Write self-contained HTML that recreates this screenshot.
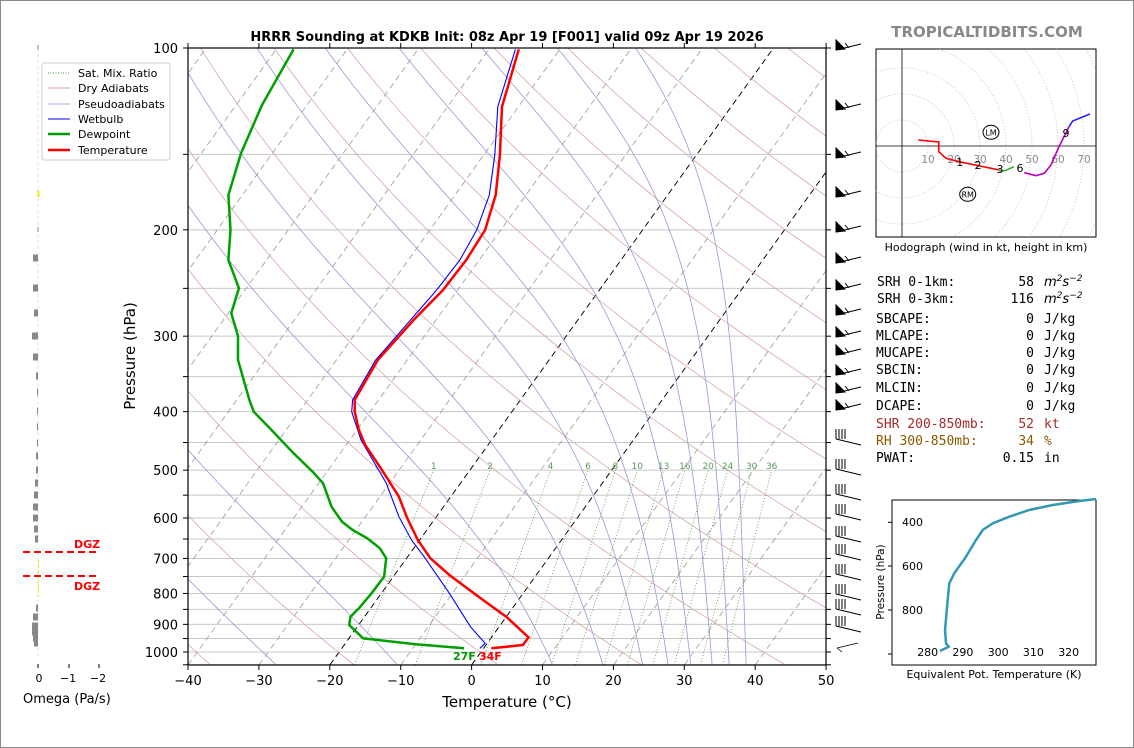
<!DOCTYPE html>
<html><head><meta charset="utf-8">
<style>
html,body{margin:0;padding:0;background:#fff;}
svg{display:block;font-family:"DejaVu Sans","Liberation Sans",sans-serif;}
</style></head>
<body>
<svg id="s" width="1134" height="748" viewBox="0 0 1134 748" xmlns="http://www.w3.org/2000/svg">
<rect x="0.5" y="0.5" width="1133" height="747" fill="#fff" stroke="#888" stroke-width="1"/>
<defs>
<clipPath id="cp"><rect x="188" y="48" width="638" height="617"/></clipPath>
<clipPath id="hc"><rect x="876" y="49" width="220" height="188"/></clipPath>
</defs>
<g id="bg" clip-path="url(#cp)"></g>
<g id="prof" clip-path="url(#cp)"></g>
<rect x="188" y="48" width="638" height="617" fill="none" stroke="#000" stroke-width="1.2"/>
<g id="ax" font-size="13"></g>
<text x="507" y="41" font-size="13" font-weight="bold" text-anchor="middle">HRRR Sounding at KDKB Init: 08z Apr 19 [F001] valid 09z Apr 19 2026</text>
<text x="987" y="37" font-size="15" font-weight="bold" fill="#888" text-anchor="middle">TROPICALTIDBITS.COM</text>
<text x="507" y="707" font-size="15" text-anchor="middle">Temperature (°C)</text>
<text transform="translate(135,356) rotate(-90)" font-size="15" text-anchor="middle">Pressure (hPa)</text>
<text x="453" y="660" font-size="11" font-weight="bold" fill="#009900">27F</text>
<text x="479" y="660" font-size="11" font-weight="bold" fill="#ff0000">34F</text>

<!-- legend -->
<g font-size="11">
<rect x="42" y="63" width="128" height="97" fill="#fff" stroke="#ccc" rx="2"/>
<line x1="48" y1="73" x2="70" y2="73" stroke="#4a9a4a" stroke-dasharray="1,1.5"/><text x="78" y="77">Sat. Mix. Ratio</text>
<line x1="48" y1="88" x2="70" y2="88" stroke="#d9a0a0"/><text x="78" y="92">Dry Adiabats</text>
<line x1="48" y1="104" x2="70" y2="104" stroke="#a8a8e0"/><text x="78" y="108">Pseudoadiabats</text>
<line x1="48" y1="119" x2="70" y2="119" stroke="#0000ff"/><text x="78" y="123">Wetbulb</text>
<line x1="48" y1="134" x2="70" y2="134" stroke="#009900" stroke-width="2.5"/><text x="78" y="138">Dewpoint</text>
<line x1="48" y1="150" x2="70" y2="150" stroke="#ff0000" stroke-width="2.5"/><text x="78" y="154">Temperature</text>
</g>

<!-- omega panel -->
<g id="om"></g>
<line x1="23" y1="552" x2="99" y2="552" stroke="#f00" stroke-width="2" stroke-dasharray="7,4"/>
<line x1="23" y1="576" x2="99" y2="576" stroke="#f00" stroke-width="2" stroke-dasharray="7,4"/>
<text x="74" y="548" font-size="11" font-weight="bold" fill="#f00">DGZ</text>
<text x="74" y="590" font-size="11" font-weight="bold" fill="#f00">DGZ</text>
<g font-size="11" text-anchor="middle">
<line x1="38" y1="664" x2="38" y2="668" stroke="#000"/><line x1="69" y1="664" x2="69" y2="668" stroke="#000"/><line x1="99" y1="664" x2="99" y2="668" stroke="#000"/>
<text x="39" y="682">0</text><text x="68" y="682">−1</text><text x="98" y="682">−2</text>
</g>
<text x="23" y="703" font-size="13">Omega (Pa/s)</text>

<!-- barbs -->
<g id="barbs" stroke="#000" fill="#000" stroke-width="1"></g>

<!-- hodograph -->
<rect x="876" y="49" width="220" height="188" fill="#fff" stroke="#000"/>
<g id="hodo" clip-path="url(#hc)"></g>
<text x="986" y="251" font-size="11" text-anchor="middle">Hodograph (wind in kt, height in km)</text>

<!-- stats -->
<g font-family="'DejaVu Sans Mono','Liberation Mono',monospace" font-size="13">
<text x="877" y="286">SRH 0-1km:</text><text x="1034" y="286" text-anchor="end">58</text><text x="1044" y="286" font-style="italic" font-family="'DejaVu Sans',sans-serif">m<tspan dy="-5" font-size="9">2</tspan><tspan dy="5">s</tspan><tspan dy="-5" font-size="9">−2</tspan></text>
<text x="877" y="303">SRH 0-3km:</text><text x="1034" y="303" text-anchor="end">116</text><text x="1044" y="303" font-style="italic" font-family="'DejaVu Sans',sans-serif">m<tspan dy="-5" font-size="9">2</tspan><tspan dy="5">s</tspan><tspan dy="-5" font-size="9">−2</tspan></text>
<text x="876" y="323">SBCAPE:</text><text x="1034" y="323" text-anchor="end">0</text><text x="1044" y="323">J/kg</text>
<text x="876" y="340">MLCAPE:</text><text x="1034" y="340" text-anchor="end">0</text><text x="1044" y="340">J/kg</text>
<text x="876" y="357">MUCAPE:</text><text x="1034" y="357" text-anchor="end">0</text><text x="1044" y="357">J/kg</text>
<text x="876" y="374">SBCIN:</text><text x="1034" y="374" text-anchor="end">0</text><text x="1044" y="374">J/kg</text>
<text x="876" y="392">MLCIN:</text><text x="1034" y="392" text-anchor="end">0</text><text x="1044" y="392">J/kg</text>
<text x="876" y="410">DCAPE:</text><text x="1034" y="410" text-anchor="end">0</text><text x="1044" y="410">J/kg</text>
<text x="876" y="428" fill="#a52a2a">SHR 200-850mb:</text><text x="1034" y="428" text-anchor="end" fill="#a52a2a">52</text><text x="1044" y="428" fill="#a52a2a">kt</text>
<text x="876" y="445" fill="#8b5a00">RH 300-850mb:</text><text x="1034" y="445" text-anchor="end" fill="#8b5a00">34</text><text x="1044" y="445" fill="#8b5a00">%</text>
<text x="876" y="462">PWAT:</text><text x="1034" y="462" text-anchor="end">0.15</text><text x="1044" y="462">in</text>
</g>

<!-- theta-e inset -->
<rect x="892" y="500" width="204" height="165" fill="#fff" stroke="#000"/>
<g font-size="11">
<line x1="888" y1="522.3" x2="892" y2="522.3" stroke="#000"/><text x="923" y="526" text-anchor="end">400</text>
<line x1="888" y1="566" x2="892" y2="566" stroke="#000"/><text x="923" y="570" text-anchor="end">600</text>
<line x1="888" y1="610" x2="892" y2="610" stroke="#000"/><text x="923" y="614" text-anchor="end">800</text>
<line x1="888" y1="654" x2="892" y2="654" stroke="#000"/>
<text x="927.7" y="656" text-anchor="middle">280</text><text x="962.9" y="656" text-anchor="middle">290</text><text x="998.2" y="656" text-anchor="middle">300</text><text x="1033.4" y="656" text-anchor="middle">310</text><text x="1068.7" y="656" text-anchor="middle">320</text>
<text x="994" y="678" text-anchor="middle">Equivalent Pot. Temperature (K)</text>
<text transform="translate(884,582) rotate(-90)" text-anchor="middle" font-size="10.5">Pressure (hPa)</text>
</g>
<polyline fill="none" stroke="#3399b3" stroke-width="2.5" points="940,651 948.7,646.7 946,643.3 945,630 947.7,600 949.3,583.3 954.3,573.3 966,556.7 976,540 982.7,530 992.7,523.3 1009.3,516.7 1029.3,510 1052.7,505 1079.3,501 1096,499"/>
</svg>
<script>
(function(){
var NS="http://www.w3.org/2000/svg";
function el(p,t,a){var e=document.createElementNS(NS,t);for(var k in a)e.setAttribute(k,a[k]);p.appendChild(e);return e;}
function Y(p){return 48+604*Math.log10(p/100);}
function X(T,p){return 188+(T+40)*7.09+0.719*(665-Y(p));}
var bg=document.getElementById('bg');
for(var p=100;p<=1050;p+=50){el(bg,'line',{x1:188,x2:826,y1:Y(p),y2:Y(p),stroke:'#c8c8c8','stroke-width':1});}
for(var T=-130;T<=50;T+=10){el(bg,'line',{x1:X(T,1050),y1:Y(1050),x2:X(T,100),y2:Y(100),stroke:'#999','stroke-width':0.8,'stroke-dasharray':'6,4'});}
[-20,0].forEach(function(T){el(bg,'line',{x1:X(T,1050),y1:Y(1050),x2:X(T,100),y2:Y(100),stroke:'#000','stroke-width':0.9,'stroke-dasharray':'6,4'});});
for(var th=213;th<=533;th+=20){var pts=[];for(var pp=1050;pp>=100;pp-=10){var t=th*Math.pow(pp/1000,0.286)-273.15;pts.push(X(t,pp).toFixed(1)+','+Y(pp).toFixed(1));}
el(bg,'polyline',{points:pts.join(' '),fill:'none',stroke:'#d49a9a','stroke-width':0.7});}
function es(Tc){return 6.112*Math.exp(17.67*Tc/(Tc+243.5));}
[-100,-80,-62,-45,-27.6,-10.5,11.4,18.5,24.1,27.7,30.9,33.9,36.3,38.7].forEach(function(T0){
 var T=T0+273.15,pp=1050,pts=[];
 while(pp>=100){pts.push(X(T-273.15,pp).toFixed(1)+','+Y(pp).toFixed(1));
  var e=es(T-273.15),rs=0.622*e/(pp-e),Lv=2.501e6,Rd=287,Cp=1005;
  var dTdp=(Rd*T+Lv*rs)/(pp*(Cp+Lv*Lv*rs*0.622/(Rd*T*T)));
  T-=dTdp*5;pp-=5;}
 el(bg,'polyline',{points:pts.join(' '),fill:'none',stroke:'#9898d8','stroke-width':0.8});
});
[1,2,4,6,8,10,13,16,20,24,30,36].forEach(function(w){
 function td(pp){var e=w*pp/(622+w),l=Math.log(e/6.112);return 243.5*l/(17.67-l);}
 el(bg,'line',{x1:X(td(1050),1050),y1:Y(1050),x2:X(td(500),500),y2:Y(500),stroke:'#4a9a4a','stroke-width':0.8,'stroke-dasharray':'1,2'});
 var t=el(bg,'text',{x:X(td(500),500),y:Y(500)-1,'font-size':9,fill:'#5a9a5a','text-anchor':'middle'});t.textContent=w;
});
var pr=document.getElementById('prof');
el(pr,'polyline',{fill:'none',stroke:'#00a000','stroke-width':2.5,points:"293.6,49.3 262,105 241,153.3 228.4,195 230.5,230 228.4,260 238.9,288.3 231.3,313.3 238,336 238,360 249.4,400 253.7,411.7 268.4,426.7 293.6,453.3 312.6,471.7 323.1,483.3 331.5,506.7 342,521.7 352.6,530 367.3,538.3 379.9,548.3 386.2,558.3 384.1,576.7 371.5,593.3 358.9,608.3 350.5,616.7 349.2,625 363.1,638.3 415.7,644.3 464.1,648.3"});
el(pr,'polyline',{fill:'none',stroke:'#0000ff','stroke-width':1.1,points:"515.4,49.3 497.8,106.7 494.8,155 489.3,195 476.7,230 459.9,260 436.7,290 375.7,360 352.6,400 351.7,411.7 361,440 386.2,483 398.9,516.7 411.5,540 424.1,556.7 449.4,593.3 470.4,626.7 485.1,643.3 480,648.3"});
el(pr,'polyline',{fill:'none',stroke:'#ff0000','stroke-width':2.5,points:"518.8,49.3 502,106.7 499.9,155 495.7,195 485.1,230 466.2,260 443,290 413.6,320 377.8,360 354.7,400 354.7,411.7 358.9,430 365.2,445 382,470 398.9,496.7 407.3,518.3 417.8,540 430.4,558.3 449.4,575 483,600 506.2,616.7 528.5,637.3 523,645 491.4,648.3"});
var ax=document.getElementById('ax');
for(var T=-40;T<=50;T+=10){var x=188+(T+40)*7.09;
 el(ax,'line',{x1:x,x2:x,y1:665,y2:670,stroke:'#000'});el(ax,'line',{x1:x,x2:x,y1:43,y2:48,stroke:'#000'});
 var t=el(ax,'text',{x:x,y:685,'text-anchor':'middle'});t.textContent=(T<0?'−':'')+Math.abs(T);}
for(var p=100;p<=1050;p+=50){var y=Y(p);el(ax,'line',{x1:183,x2:188,y1:y,y2:y,stroke:'#000'});el(ax,'line',{x1:826,x2:831,y1:y,y2:y,stroke:'#000'});
 if(p%100==0){var t=el(ax,'text',{x:178,y:y+5,'text-anchor':'end'});t.textContent=p;}}
var om=document.getElementById('om');
el(om,'line',{x1:38,x2:38,y1:48,y2:660,stroke:'#ccc','stroke-width':0.6,'stroke-dasharray':'3,3'});
var bars=[[258,5],[288,5],[313,4],[336,6],[357,5],[376,2],[392,1],[411,1],[427,1],[443,1],[456,2],[470,2],[483,3],[495,4],[507,5],[518,5],[529,4],[539,3],[608,2],[617,5],[626,6],[632,6],[638,5],[643,4]];
bars.forEach(function(b){el(om,'rect',{x:38-b[1],y:b[0]-3.5,width:b[1],height:7,fill:'#888'});});
[[48,1],[193,1],[230,1]].forEach(function(b){el(om,'rect',{x:37.5,y:b[0]-3,width:1,height:5,fill:'#888'});});
el(om,'rect',{x:37.5,y:191,width:2,height:6,fill:'#ee0'});
el(om,'line',{x1:38.5,x2:38.5,y1:560,y2:596,stroke:'#ee0','stroke-dasharray':'3,2'});
var bb=document.getElementById('barbs');
var up=[45,105,153,192,227,258,285,310,332,350,370,388,405];
up.forEach(function(y){el(bb,'polygon',{points:'836,'+(y-5)+' 836,'+(y+5)+' 845,'+(y+4)});el(bb,'line',{x1:836,y1:y+5,x2:861,y2:y-1});
 el(bb,'line',{x1:845,y1:y-2,x2:849,y2:y+3});});
var lo=[435,465,490,510,532,550,570,590,605,622];
lo.forEach(function(y,i){for(var k=0;k<4;k++){el(bb,'line',{x1:836+k*3,y1:y-6,x2:836+k*3,y2:y+4});}
 el(bb,'line',{x1:836,y1:y+4,x2:861,y2:y+10});});
el(bb,'line',{x1:837,y1:648,x2:858,y2:643,'stroke-width':0.8});el(bb,'line',{x1:837,y1:648,x2:842,y2:652,'stroke-width':0.8});
var h=document.getElementById('hodo');
for(var r=10;r<=90;r+=10){el(h,'circle',{cx:902,cy:146,r:r*2.6,fill:'none',stroke:'#bbb','stroke-width':0.8,'stroke-dasharray':'1,2'});}
el(h,'line',{x1:876,x2:1096,y1:146,y2:146,stroke:'#000','stroke-width':0.8});
el(h,'line',{x1:902,x2:902,y1:49,y2:237,stroke:'#000','stroke-width':0.8});
for(var r=10;r<=70;r+=10){var t=el(h,'text',{x:902+r*2.6,y:163,'font-size':10.5,fill:'#888','text-anchor':'middle'});t.textContent=r;}
el(h,'polyline',{fill:'none',stroke:'#f00','stroke-width':1.6,points:'918.3,140 938.7,142 938.7,151.7 946,158.3 959,161.7 999.3,170'});
el(h,'polyline',{fill:'none',stroke:'#3a3','stroke-width':1.6,points:'999,170.7 1005,170.7 1014,166.7'});
el(h,'polyline',{fill:'none',stroke:'#b0b','stroke-width':1.6,points:'1024.3,172.7 1036,175.7 1044.3,173.3 1051,165 1059,146.7 1069,126.7'});
el(h,'polyline',{fill:'none',stroke:'#22f','stroke-width':1.6,points:'1069,126.7 1072.7,121 1090,114'});
[['1',959.7],['2',978,165],['3',1000,169],['6',1020,168],['9',1066,133]].forEach(function(a){var t=el(h,'text',{x:a[1],y:(a[2]||162)+4,'font-size':11,'text-anchor':'middle'});t.textContent=a[0];});
el(h,'ellipse',{cx:991,cy:132.3,rx:8,ry:7,fill:'none',stroke:'#000'});
var t=el(h,'text',{x:991,y:135.5,'font-size':8,'text-anchor':'middle'});t.textContent='LM';
el(h,'ellipse',{cx:967.7,cy:194.3,rx:8,ry:7,fill:'none',stroke:'#000'});
t=el(h,'text',{x:967.7,y:197.5,'font-size':8,'text-anchor':'middle'});t.textContent='RM';
})();
</script>
</body></html>
